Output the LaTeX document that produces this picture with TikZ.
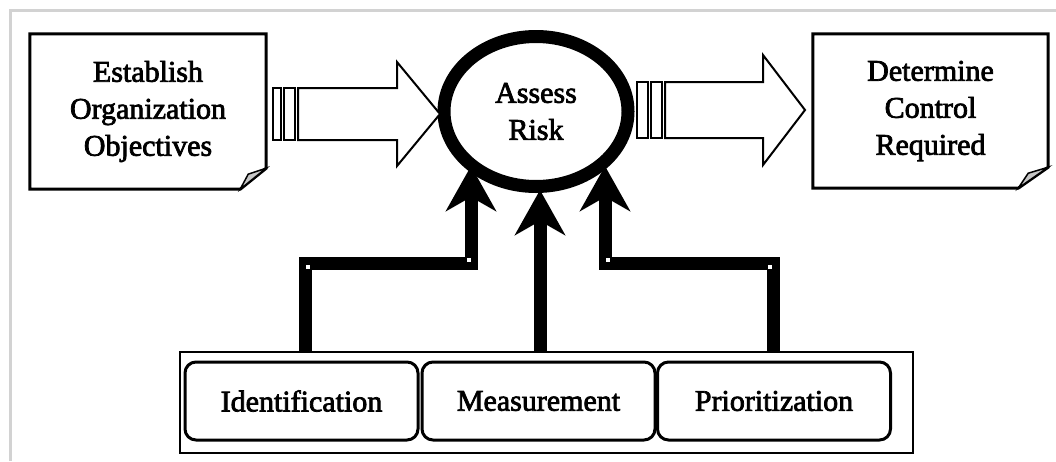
\documentclass[tikz,border=0pt]{standalone}
\usepackage{fontspec}
\setmainfont{Liberation Serif}[FakeBold=2.5]
\usetikzlibrary{shapes.geometric,arrows.meta}
\begin{document}
\begin{tikzpicture}[x=1pt,y=-1pt,
  txt/.style={font=\fontsize{30}{37}\selectfont, align=center, inner sep=0pt},
  docbox/.style={txt, minimum width=236pt, minimum height=155pt},
  docline/.style={line width=3pt, line join=miter},
  fold/.style={line width=1.5pt, fill=gray!45},
  blockarrow/.style={line width=2pt, fill=white, line join=miter},
  stripe/.style={line width=2pt, fill=white},
  conn/.style={line width=13pt, line join=miter, -{Stealth[length=45pt,width=50pt,inset=14pt]}},
  itembox/.style={txt, draw, line width=3pt, rounded corners=11pt, minimum width=233pt, minimum height=78pt},
  frameline/.style={line width=3pt, draw=gray!35},
  dot/.style={fill=white}
]
\useasboundingbox (0,0) rectangle (1056,461);
% frame
\draw[frameline] (10,461) -- (10,10) -- (1056,10);

% document boxes
\node[docbox] (est) at (148,111.5) {Establish\\Organization\\Objectives};
\draw[docline] (est.north west) -- (est.north east) -- ([yshift=21pt]est.south east)
  -- ([xshift=-26pt]est.south east) -- (est.south west) -- cycle;
\draw[fold] ([yshift=21pt]est.south east) -- ([xshift=-26pt]est.south east) -- ([xshift=-18pt,yshift=15pt]est.south east) -- cycle;

\node[docbox, minimum width=235pt, minimum height=154pt] (det) at (930.5,111) {Determine\\Control\\Required};
\draw[docline] (det.north west) -- (det.north east) -- ([yshift=21pt]det.south east)
  -- ([xshift=-30pt]det.south east) -- (det.south west) -- cycle;
\draw[fold] ([yshift=21pt]det.south east) -- ([xshift=-30pt]det.south east) -- ([xshift=-20pt,yshift=15pt]det.south east) -- cycle;

% central ellipse
\node[ellipse, draw, line width=13pt, minimum width=184pt, minimum height=150pt, txt] (risk) at (536,111.5) {Assess\\Risk};

% left block arrow
\draw[stripe] (273,88) rectangle (281,140);
\draw[stripe] (284,88) rectangle (295,140);
\draw[blockarrow] (298,88) -- (397,88) -- (397,62) -- (440,114) -- (397,166) -- (397,140) -- (298,140) -- cycle;

% right block arrow
\draw[stripe] (637,82) rectangle (648,138);
\draw[stripe] (651,82) rectangle (662,138);
\draw[blockarrow] (665,82) -- (763,82) -- (763,55) -- (805,110) -- (763,165) -- (763,138) -- (665,138) -- cycle;

% bottom container and items
\node[draw, line width=2.5pt, minimum width=733pt, minimum height=101pt, inner sep=0pt] (cont) at (546.5,402.5) {};
\node[itembox] (ident) at (301.5,401) {Identification};
\node[itembox] (meas) at (538.5,401) {Measurement};
\node[itembox] (prio) at (774,401) {Prioritization};

% connectors
\coordinate (c1) at (305,263);
\coordinate (c2) at (471,263);
\coordinate (t1) at (471,166);
\coordinate (t2) at (540,190);
\coordinate (c3) at (605,263);
\coordinate (c4) at (773,263);
\coordinate (t3) at (605,166);
\draw[conn] (c1 |- cont.north) -- (c1) -- (c2) -- (t1);
\draw[conn] (t2 |- cont.north) -- (t2);
\draw[conn] (c4 |- cont.north) -- (c4) -- (c3) -- (t3);

% small white corner dots
\fill[dot] (306,265) rectangle (310,269);
\fill[dot] (467,258) rectangle (471,262);
\fill[dot] (606,258) rectangle (610,262);
\fill[dot] (768,265) rectangle (772,269);
\end{tikzpicture}
\end{document}
